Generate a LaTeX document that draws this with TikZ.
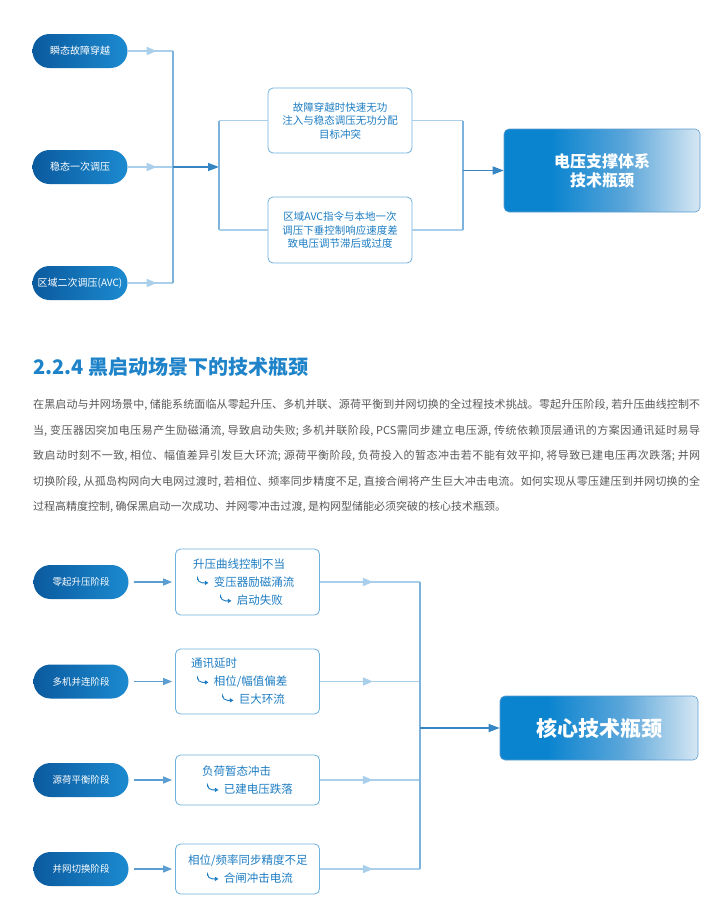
\documentclass[tikz,border=0pt]{standalone}
\usepackage{fontspec}
\setmainfont{Noto Sans CJK SC}
\usetikzlibrary{arrows.meta,decorations.markings}

\definecolor{pilldark}{HTML}{0B5A9E}
\definecolor{pilllight}{HTML}{1C8AD0}
\definecolor{paleline}{HTML}{A9CFEA}
\definecolor{busline}{HTML}{7DB2DC}
\definecolor{leadline}{HTML}{5C9DD2}
\definecolor{darkarrow}{HTML}{3686C4}
\definecolor{boxedge}{HTML}{6CB2DD}
\definecolor{boxtext}{HTML}{1D7DC3}
\definecolor{headblue}{HTML}{1E83C9}
\definecolor{bodygrey}{HTML}{595959}
\definecolor{fadeleft}{HTML}{0A84CF}
\definecolor{fademid}{HTML}{5BA6DA}
\definecolor{faderight}{HTML}{D6E7F3}

\pgfdeclarehorizontalshading{goalfade}{100bp}{color(0bp)=(fadeleft); color(25bp)=(fadeleft); color(37bp)=(fadeleft); color(56bp)=(fademid); color(75bp)=(faderight); color(100bp)=(faderight)}

\XeTeXlinebreaklocale "zh"
\XeTeXlinebreakskip=0pt plus 2pt

\tikzset{
	pill/.style={rectangle, rounded corners=17pt, minimum width=95pt, minimum height=34pt, left color=pilldark, right color=pilllight, text=white, font=\fontsize{10}{12}\selectfont},
	issuebox/.style={rectangle, rounded corners=5pt, draw=boxedge, line width=0.8pt, fill=white, text=boxtext, minimum width=144pt},
	goalbox/.style={rectangle, rounded corners=5pt, draw=darkarrow!80, line width=0.6pt, shading=goalfade, text=white, align=center},
	feed/.style={paleline, line width=1.4pt, postaction={decorate}, decoration={markings, mark=at position #1 with {\arrow{Triangle[length=10pt,width=8pt]}}}},
	bus/.style={busline, line width=1.4pt},
	link/.style={paleline, line width=1.4pt},
	lead/.style={leadline, line width=1.4pt, shorten <=5pt, shorten >=3pt, -{Triangle[length=9pt,width=7pt]}},
	mainarrow/.style={darkarrow, line width=1.4pt, -{Triangle[length=11pt,width=8pt]}},
	hookline/.style={boxtext, line width=0.9pt, -{Triangle[length=3.5pt,width=4pt]}}
}

\newcommand{\subarr}{\tikz[baseline=0pt]\draw[hookline] (0pt,6.5pt) -- (0pt,3.5pt) -- (11pt,3.5pt);\hspace{5pt}}

\begin{document}
\begin{tikzpicture}[x=1pt, y=-1pt]
	\useasboundingbox (0,0) rectangle (715,918);
	\fill[white] (0,0) rectangle (715,918);

	% voltage support
	\node[pill] (zt1) at (80,51) {瞬态故障穿越};
	\node[pill] (zt2) at (80,167) {稳态一次调压};
	\node[pill] (zt3) at (80,283) {区域二次调压(AVC)};
	\coordinate (jz1) at (173,51);
	\coordinate (jz2) at (173,167);
	\coordinate (jz3) at (173,283);
	\draw[feed=0.64] (zt1.east) -- (jz1);
	\draw[feed=0.64] (zt2.east) -- (jz2);
	\draw[feed=0.64] (zt3.east) -- (jz3);
	\draw[bus] (jz1) -- (jz3);

	\node[issuebox, minimum height=65pt, align=center, font=\fontsize{10.5}{13.5}\selectfont] (ct1) at (340,120.5) {故障穿越时快速无功\\注入与稳态调压无功分配\\目标冲突};
	\node[issuebox, minimum height=66pt, align=center, font=\fontsize{10.5}{13.5}\selectfont] (ct2) at (340,230) {区域AVC指令与本地一次\\调压下垂控制响应速度差\\致电压调节滞后或过度};
	\coordinate (sp1) at (219,120.5);
	\coordinate (sp2) at (219,230);
	\coordinate (spm) at (219,167);
	\draw[mainarrow] (jz2) -- (spm);
	\draw[bus] (sp1) -- (sp2);
	\draw[link] (sp1) -- (ct1.west);
	\draw[link] (sp2) -- (ct2.west);

	\node[goalbox, minimum width=196pt, minimum height=83pt, font=\fontsize{16}{19}\selectfont\bfseries] (tgA) at (602,170.5) {电压支撑体系\\技术瓶颈};
	\coordinate (mg1) at (463,120.5);
	\coordinate (mg2) at (463,230);
	\coordinate (mgm) at (463,170.5);
	\draw[link] (ct1.east) -- (mg1);
	\draw[link] (ct2.east) -- (mg2);
	\draw[bus] (mg1) -- (mg2);
	\draw[mainarrow] (mgm) -- (tgA.west);

	% section text
	\node[anchor=west, inner sep=0, text=headblue, font=\fontsize{20}{24}\selectfont\bfseries] (sec) at (33,367) {2.2.4 黑启动场景下的技术瓶颈};
	\node[anchor=north west, inner sep=0, text width=667pt, align=justify, text=bodygrey, font=\fontsize{11}{25.5}\selectfont] (body) at (33,399) {在黑启动与并网场景中, 储能系统面临从零起升压、多机并联、源荷平衡到并网切换的全过程技术挑战。零起升压阶段, 若升压曲线控制不\linebreak 当, 变压器因突加电压易产生励磁涌流, 导致启动失败; 多机并联阶段, PCS需同步建立电压源, 传统依赖顶层通讯的方案因通讯延时易导\linebreak 致启动时刻不一致, 相位、幅值差异引发巨大环流; 源荷平衡阶段, 负荷投入的暂态冲击若不能有效平抑, 将导致已建电压再次跌落; 并网\linebreak 切换阶段, 从孤岛构网向大电网过渡时, 若相位、频率同步精度不足, 直接合闸将产生巨大冲击电流。如何实现从零压建压到并网切换的全\linebreak 过程高精度控制, 确保黑启动一次成功、并网零冲击过渡, 是构网型储能必须突破的核心技术瓶颈。};

	% black start
	\node[pill, font=\fontsize{9.5}{11}\selectfont] (zb1) at (81,582) {零起升压阶段};
	\node[pill, font=\fontsize{9.5}{11}\selectfont] (zb2) at (81,681.5) {多机并连阶段};
	\node[pill, font=\fontsize{9.5}{11}\selectfont] (zb3) at (81,780) {源荷平衡阶段};
	\node[pill, font=\fontsize{9.5}{11}\selectfont] (zb4) at (81,869) {并网切换阶段};

	\node[issuebox, text width=143pt, inner xsep=0pt, minimum height=66pt, align=left, font=\fontsize{11.5}{18}\selectfont] (cb1) at (247.5,582) {\hspace*{17pt}升压曲线控制不当\\\hspace*{21pt}\subarr 变压器励磁涌流\\\hspace*{44pt}\subarr 启动失败};
	\node[issuebox, text width=143pt, inner xsep=0pt, minimum height=65pt, align=left, font=\fontsize{11.5}{18}\selectfont] (cb2) at (247.5,681.5) {\hspace*{15pt}通讯延时\\\hspace*{21pt}\subarr 相位/幅值偏差\\\hspace*{46pt}\subarr 巨大环流};
	\node[issuebox, text width=143pt, inner xsep=0pt, minimum height=50pt, align=left, font=\fontsize{11.5}{18}\selectfont] (cb3) at (247.5,780) {\hspace*{26pt}负荷暂态冲击\\\hspace*{31pt}\subarr 已建电压跌落};
	\node[issuebox, text width=143pt, inner xsep=0pt, minimum height=50pt, align=left, font=\fontsize{11.5}{18}\selectfont] (cb4) at (247.5,869) {\hspace*{12pt}相位/频率同步精度不足\\\hspace*{31pt}\subarr 合闸冲击电流};

	\draw[lead] (zb1.east) -- (cb1.west);
	\draw[lead] (zb2.east) -- (cb2.west);
	\draw[lead] (zb3.east) -- (cb3.west);
	\draw[lead] (zb4.east) -- (cb4.west);

	\node[goalbox, minimum width=198pt, minimum height=64pt, font=\fontsize{21}{25}\selectfont\bfseries] (tgB) at (599,728) {核心技术瓶颈};
	\coordinate (jb1) at (420,582);
	\coordinate (jb2) at (420,681.5);
	\coordinate (jb3) at (420,780);
	\coordinate (jb4) at (420,869);
	\coordinate (jbm) at (420,728);
	\draw[feed=0.53] (cb1.east) -- (jb1);
	\draw[feed=0.53] (cb2.east) -- (jb2);
	\draw[feed=0.53] (cb3.east) -- (jb3);
	\draw[feed=0.53] (cb4.east) -- (jb4);
	\draw[bus] (jb1) -- (jb4);
	\draw[mainarrow] (jbm) -- (tgB.west);
\end{tikzpicture}
\end{document}
